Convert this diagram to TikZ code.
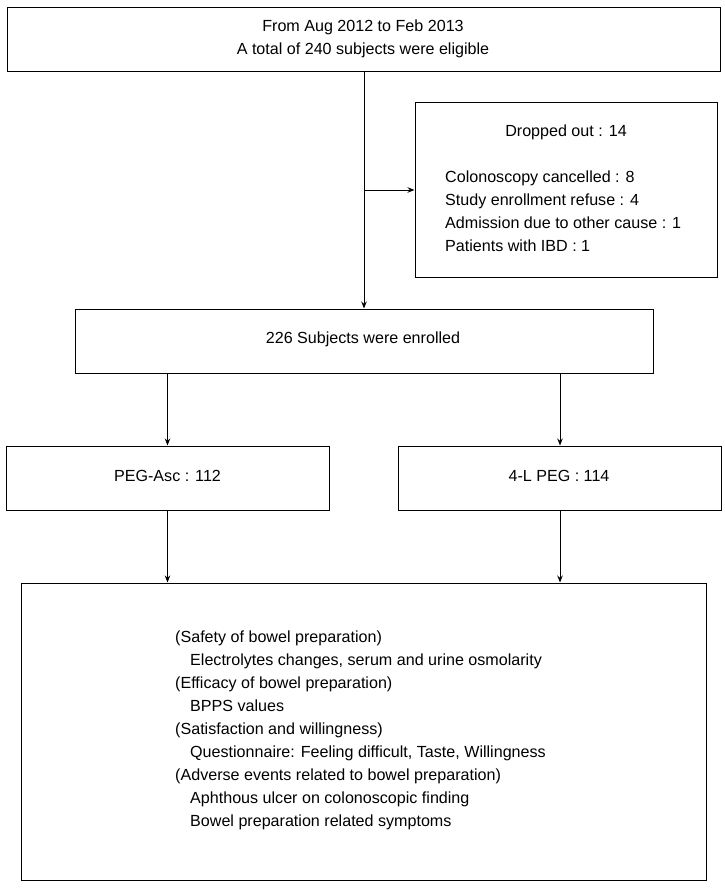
\documentclass[tikz,border=0pt]{standalone}
\usepackage{fontspec}
\setmainfont{Liberation Sans}
\usetikzlibrary{arrows.meta}
\tikzset{
  box/.style={draw, line width=1pt, inner sep=0pt},
  txt/.style={inner sep=0pt, font=\fontsize{16.1}{23}\selectfont},
  arr/.style={line width=1pt, -{Stealth[length=7pt,width=5.5pt]}}
}
\begin{document}
\begin{tikzpicture}[x=1pt,y=-1pt]
\useasboundingbox[fill=white] (0,0) rectangle (724,888);
% boxes
\node[box, minimum width=713pt, minimum height=64pt] (top) at (363.5,40) {};
\node[box, minimum width=302pt, minimum height=174pt] (drop) at (566,190) {};
\node[box, minimum width=578pt, minimum height=64pt] (enr) at (364,341) {};
\node[box, minimum width=323pt, minimum height=64pt] (peg) at (167.5,478) {};
\node[box, minimum width=323pt, minimum height=64pt] (lpeg) at (560,478) {};
\node[box, minimum width=685pt, minimum height=297pt] (bot) at (363.5,731.5) {};
% texts
\node[txt, align=center] (toptxt) at (363,38.5) {From Aug 2012 to Feb 2013\\A total of 240 subjects were eligible};
\node[txt] (droph) at (566,132) {Dropped out : 14};
\node[txt, align=left, anchor=west] (dropl) at (445,211.5) {Colonoscopy cancelled : 8\\Study enrollment refuse : 4\\Admission due to other cause : 1\\Patients with IBD : 1};
\node[txt] (enrtxt) at (363,339) {226 Subjects were enrolled};
\node[txt] (pegtxt) at (167.5,476) {PEG-Asc : 112};
\node[txt] (lpegtxt) at (559,476) {4-L PEG : 114};
\node[txt, align=left, anchor=west] (bottxt) at (175,730.5) {(Safety of bowel preparation)\\
\hspace*{15pt}Electrolytes changes, serum and urine osmolarity\\
(Efficacy of bowel preparation)\\
\hspace*{15pt}BPPS values\\
(Satisfaction and willingness)\\
\hspace*{15pt}Questionnaire: Feeling difficult, Taste, Willingness\\
(Adverse events related to bowel preparation)\\
\hspace*{15pt}Aphthous ulcer on colonoscopic finding\\
\hspace*{15pt}Bowel preparation related symptoms};
% connectors
\draw[arr] (top.south -| enr.north) -- (enr.north);
\draw[arr] (top.south |- drop.west) -- (drop.west);
\draw[arr] (enr.south -| peg.north) -- (peg.north);
\draw[arr] (enr.south -| lpeg.north) -- (lpeg.north);
\draw[arr] (peg.south) -- (peg.south |- bot.north);
\draw[arr] (lpeg.south) -- (lpeg.south |- bot.north);
\end{tikzpicture}
\end{document}
